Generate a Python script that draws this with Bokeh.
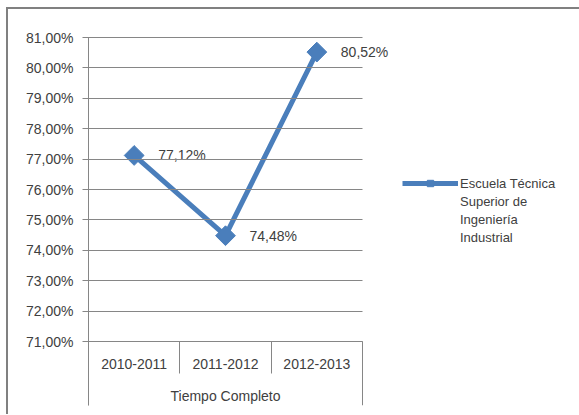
import numpy as np
from bokeh.plotting import figure
from bokeh.models import (Range1d, FixedTicker, CustomJSTickFormatter, LinearAxis,
                          Legend, LegendItem, ColumnDataSource, Grid)
from bokeh.core.properties import value
from bokeh.embed import file_html
from bokeh.resources import INLINE

# ---- data ----
categories = ["2010-2011", "2011-2012", "2012-2013"]
group_label = "Tiempo Completo"
series_lines = ["Escuela Técnica", "Superior de", "Ingeniería", "Industrial"]
values = [77.12, 74.48, 80.52]
y_ticks = [71, 72, 73, 74, 75, 76, 77, 78, 79, 80, 81]

FONT = "Liberation Sans"
BLUE = "#4A7EBB"
GRAY = "#868686"
TXT = "#404040"

# layout (pixels)
AREA_W = 274          # width of the category span
EXTRA_W = 40          # room right of the span so data labels are not clipped
AREA_H = 304          # height of the value span (71% .. 81%)
CAT_H = 64            # category-label band under the value span
n = len(categories)
px_per_unit = AREA_H / (y_ticks[-1] - y_ticks[0])

xpos = [i + 0.5 for i in range(n)]
labels = [f"{v:.2f}".replace(".", ",") + "%" for v in values]
src = ColumnDataSource(dict(x=xpos, y=values, label=labels))

cat_src = ColumnDataSource(dict(x=xpos, y=[y_ticks[0] - 22 / px_per_unit] * n,
                                text=categories))
grp_src = ColumnDataSource(dict(x=[n / 2], y=[y_ticks[0] - 54 / px_per_unit],
                                text=[group_label]))

p = figure(frame_width=AREA_W + EXTRA_W, frame_height=AREA_H + CAT_H,
           min_border_left=80, min_border_right=176,
           min_border_top=28, min_border_bottom=9,
           x_range=Range1d(0, n * (AREA_W + EXTRA_W) / AREA_W),
           y_range=Range1d(y_ticks[0] - CAT_H / px_per_unit, y_ticks[-1]),
           x_axis_location=None,
           output_backend="svg", toolbar_location=None)
p.styles = {"border-left": "2px solid #808080", "border-top": "2px solid #808080",
            "margin-left": "6px", "margin-top": "7px"}
p.outline_line_color = None
p.background_fill_color = "white"
p.border_fill_color = "white"

# y axis; its major ticks run across the category span as gridlines
ya = p.yaxis[0]
ya.ticker = FixedTicker(ticks=y_ticks)
ya.formatter = CustomJSTickFormatter(code="return tick.toFixed(2).replace('.', ',') + '%';")
ya.axis_line_color = GRAY
ya.major_tick_line_color = GRAY
ya.major_tick_out = 6
ya.major_tick_in = AREA_W
ya.minor_tick_line_color = None
ya.major_label_standoff = 9
ya.major_label_text_font = FONT
ya.major_label_text_font_size = "14px"
ya.major_label_text_color = TXT

# no default grids (gridlines come from the y-axis ticks)
for r in list(p.center):
    if isinstance(r, Grid):
        r.visible = False
        r.grid_line_color = None

# category axis at 71%: separators between categories, long ones at the group edges
cat_axis = LinearAxis(ticker=FixedTicker(ticks=[0, n], minor_ticks=list(range(1, n))),
                      formatter=CustomJSTickFormatter(code="return '';"),
                      fixed_location=y_ticks[0],
                      bounds=(0, n),
                      axis_line_color=GRAY,
                      major_tick_in=CAT_H, major_tick_out=0,
                      major_tick_line_color=GRAY,
                      minor_tick_in=CAT_H // 2, minor_tick_out=0,
                      minor_tick_line_color=GRAY,
                      major_label_text_font_size="1px")
p.add_layout(cat_axis, "above")

# category and group labels
p.text("x", "y", text="text", source=cat_src, text_align="center", text_baseline="middle",
       text_font=value(FONT), text_font_size="14px", text_color=TXT)
p.text("x", "y", text="text", source=grp_src, text_align="center", text_baseline="middle",
       text_font=value(FONT), text_font_size="14px", text_color=TXT)

# series
line_r = p.line("x", "y", source=src, line_color=BLUE, line_width=5)
mark_r = p.scatter("x", "y", source=src, marker="square", angle=np.pi / 4, size=14,
                   fill_color=BLUE, line_color=BLUE)
p.text("x", "y", text="label", source=src, x_offset=24, text_baseline="middle",
       text_align="left", text_font=value(FONT), text_font_size="14px", text_color=TXT)

blank = p.line(x=[], y=[], line_alpha=0)
items = [LegendItem(label=series_lines[0], renderers=[line_r, mark_r])]
items += [LegendItem(label=s, renderers=[blank]) for s in series_lines[1:]]
legend = Legend(items=items, location=(0, 160), padding=0, margin=0,
                glyph_width=56, glyph_height=16, label_height=16, spacing=2,
                label_standoff=2, border_line_color=None, background_fill_alpha=0,
                label_text_font=FONT, label_text_font_size="13px", label_text_color=TXT)
p.add_layout(legend, "right")

open("out.html", "w").write(file_html(p, INLINE))
